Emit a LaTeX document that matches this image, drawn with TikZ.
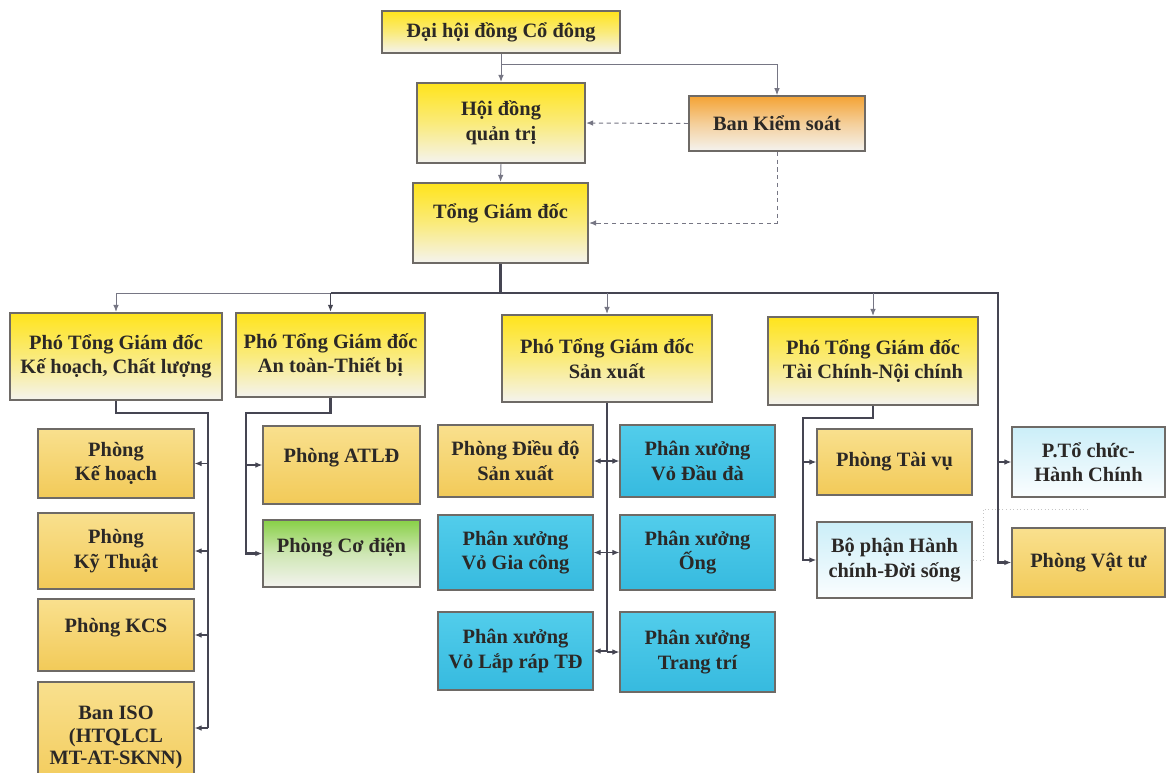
\documentclass[tikz,border=0pt]{standalone}
\usepackage{fontspec}
\setmainfont{Liberation Serif}
\usetikzlibrary{arrows.meta,calc}
\definecolor{ylw}{HTML}{FFE41C}
\definecolor{bot}{HTML}{F4F3EF}
\definecolor{org}{HTML}{F4A334}
\definecolor{gold1}{HTML}{F9E08E}
\definecolor{gold2}{HTML}{F2CA58}
\definecolor{cyn1}{HTML}{52CDEB}
\definecolor{cyn2}{HTML}{36BADF}
\definecolor{lcyn}{HTML}{CBEEF8}
\definecolor{grn}{HTML}{88D046}
\definecolor{bord}{HTML}{6E6A66}
\definecolor{ln}{HTML}{454552}
\definecolor{lnt}{HTML}{767684}
\definecolor{txt}{HTML}{2B2826}
\tikzset{
  area/.style n args={4}{minimum width={(#3-#1)*0.025cm}, minimum height={(#4-#2)*0.025cm}, at={({(#1+#3)/2},{(#2+#4)/2})}},
  box/.style={inner sep=0pt, align=center, font=\fontsize{14.5}{17.5}\selectfont\bfseries, text=txt, draw=bord, line width=0.9pt},
  mainbox/.style={box, line width=1.6pt, top color=ylw, bottom color=bot, middle color=ylw!55!bot},
  orgbox/.style={box, top color=org, bottom color=bot, middle color=org!45!bot},
  goldbox/.style={box, top color=gold1, bottom color=gold2},
  cynbox/.style={box, top color=cyn1, bottom color=cyn2},
  lcynbox/.style={box, top color=lcyn, bottom color=white!92!lcyn},
  grnbox/.style={box, top color=grn, bottom color=bot, middle color=grn!35!bot},
  arr/.style={-{Latex[length=5pt,width=4pt]}},
  thickln/.style={draw=ln, line width=1.6pt},
  medln/.style={draw=ln, line width=1.0pt},
  thinln/.style={draw=lnt, line width=0.7pt},
  stubln/.style={draw=ln, line width=0.8pt},
  dashln/.style={draw=lnt, line width=0.7pt, dash pattern=on 3pt off 2.5pt},
  faintln/.style={draw=gray!45, line width=0.5pt, dotted}
}
\begin{document}
\begin{tikzpicture}[x=0.025cm,y=-0.025cm]
\useasboundingbox (0,0) rectangle (1167,772);
\clip (0,0) rectangle (1167,772);
\fill[white] (0,0) rectangle (1167,772);

% top level
\node[mainbox, area={382}{11}{620}{53}] (dh) {Đại hội đồng Cổ đông};
\node[mainbox, area={417}{83}{585}{163}] (hd) {Hội đồng\\quản trị};
\node[orgbox, line width=1.2pt, area={689}{96}{865}{151}] (bks) {Ban Kiểm soát};
\node[mainbox, area={413}{183}{588}{263}] (tgd) {Tổng Giám đốc\\\mbox{}};

% deputies
\node[mainbox, area={10}{313}{222}{400}] (p1) {Phó Tổng Giám đốc\\Kế hoạch, Chất lượng};
\node[mainbox, area={236}{313}{425}{397}] (p2) {Phó Tổng Giám đốc\\An toàn-Thiết bị};
\node[mainbox, area={502}{315}{712}{402}] (p3) {Phó Tổng Giám đốc\\Sản xuất};
\node[mainbox, area={768}{317}{978}{405}] (p4) {Phó Tổng Giám đốc\\Tài Chính-Nội chính};

% left column
\node[goldbox, area={38}{429}{194}{498}] (kh) {Phòng\\Kế hoạch};
\node[goldbox, area={38}{513}{194}{589}] (kt) {Phòng\\Kỹ Thuật};
\node[goldbox, area={38}{599}{194}{671}] (kcs) {Phòng KCS\\[-4pt]\mbox{}};
\node[goldbox, area={38}{682}{194}{792}] (iso) {Ban ISO\\[-1pt](HTQLCL\\[-2pt]MT-AT-SKNN)};

% safety
\node[goldbox, area={263}{426}{420}{504}] (atld) {Phòng ATLĐ\\[-4pt]\mbox{}};
\node[grnbox, area={263}{520}{420}{587}] (cd) {Phòng Cơ điện\\[-6pt]\mbox{}};

% production
\node[goldbox, area={438}{425}{593}{497}] (dd) {Phòng Điều độ\\Sản xuất};
\node[cynbox, area={438}{515}{593}{590}] (vgc) {Phân xưởng\\Vỏ Gia công};
\node[cynbox, area={438}{612}{593}{690}] (vlr) {Phân xưởng\\Vỏ Lắp ráp TĐ};
\node[cynbox, area={620}{425}{775}{497}] (vdd) {Phân xưởng\\Vỏ Đầu đà};
\node[cynbox, area={620}{515}{775}{590}] (ong) {Phân xưởng\\Ống};
\node[cynbox, area={620}{612}{775}{692}] (tt) {Phân xưởng\\Trang trí};

% finance
\node[goldbox, area={817}{429}{972}{495}] (tv) {Phòng Tài vụ};
\node[lcynbox, area={817}{522}{972}{598}] (bp) {Bộ phận Hành\\chính-Đời sống};
\node[lcynbox, area={1012}{427}{1165}{497}] (tc) {P.Tổ chức-\\Hành Chính};
\node[goldbox, area={1012}{528}{1165}{597}] (vt) {Phòng Vật tư};

% top connectors
\draw[thinln,arr] (dh.south) -- (hd.north);
\draw[thinln,arr] ($(dh.south)+(0,10)$) -| (bks.north);
\draw[thinln,arr] (hd.south) -- (tgd.north);
\draw[dashln,arr] (bks.west) -- (hd.east);
\draw[dashln,arr] (bks.south) |- (tgd.east);

% bus
\coordinate (busR) at (998,293);
\draw[thickln] (tgd.south) -- (tgd.south |- busR);
\draw[thickln,arr] (p2.north |- busR) -- (busR) |- (vt.west);
\draw[thinln,arr] (p2.north |- busR) -| (p1.north);
\draw[medln,arr] (p2.north |- busR) -- (p2.north);
\draw[thinln,arr] (p3.north |- busR) -- (p3.north);
\draw[thinln,arr] (p4.north |- busR) -- (p4.north);
\draw[stubln,arr] (busR |- tc.west) -- (tc.west);

% left branch
\coordinate (kx) at (208,413);
\coordinate (isoin) at ($(iso.east)+(0,-9)$);
\draw[thickln] (p1.south) |- (kx) -- (kx |- isoin);
\draw[stubln,arr] (kx |- kh.east) -- (kh.east);
\draw[stubln,arr] (kx |- kt.east) -- (kt.east);
\draw[stubln,arr] (kx |- kcs.east) -- (kcs.east);
\draw[stubln,arr] (kx |- isoin) -- (isoin);

% safety branch
\coordinate (ax) at (246,413);
\draw[thickln,arr] (p2.south) |- (ax) |- (cd.west);
\draw[stubln,arr] (ax |- atld.west) -- (atld.west);

% production branch
\draw[thickln] (p3.south) -- (p3.south |- vlr.east);
\draw[stubln,arr] (p3.south |- dd.east) -- (dd.east);
\draw[stubln,arr] (p3.south |- vdd.west) -- (vdd.west);
\draw[stubln,arr] (p3.south |- vgc.east) -- (vgc.east);
\draw[stubln,arr] (p3.south |- ong.west) -- (ong.west);
\draw[stubln,arr] (p3.south |- vlr.east) -- (vlr.east);
\draw[stubln,arr] (p3.south |- tt.west) -- (tt.west);

% finance branch
\coordinate (tx) at (803,418);
\draw[thickln,arr] (p4.south) |- (tx) |- (bp.west);
\draw[stubln,arr] (tx |- tv.west) -- (tv.west);

% faint dotted link
\coordinate (fc) at (983,509);
\coordinate (fd) at (1090,509);
\draw[faintln] (bp.east) -| (fc) -- (fd);
\end{tikzpicture}
\end{document}
